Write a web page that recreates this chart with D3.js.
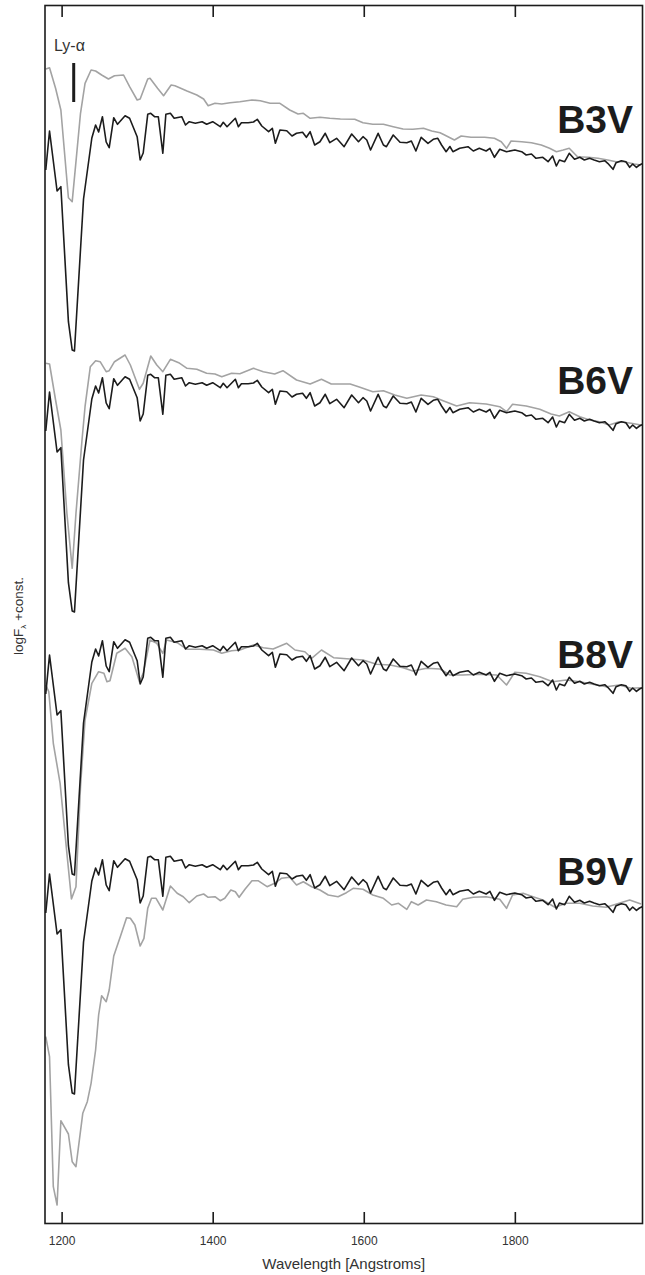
<!DOCTYPE html>
<html>
<head>
<meta charset="utf-8">
<script src="https://cdn.jsdelivr.net/npm/d3@7"></script>
<style>
  body { margin: 0; background: #fff; }
  svg { display: block; font-family: "Liberation Sans", Arial, Helvetica, sans-serif; }
</style>
</head>
<body>
<svg id="c" width="645" height="1275"></svg>
<script>

// spectral types of the comparison stars, top to bottom
const standards = ['B3V', 'B6V', 'B8V', 'B9V'];
// vertical shift (logF units) added to each panel
const offsets = [7.43, 4.82, 2.19, 0];
const xTicks = [1200, 1400, 1600, 1800];
const lyAlpha = 1216;

// observed star, [wavelength, logF] (same spectrum in every panel)
const target = [
  [1179,3.105],[1184,3.495],[1194,2.895],[1199,2.938],[1209,1.588],[1214,1.305],[1217,1.295],
  [1229,2.815],[1240,3.425],[1245,3.555],[1249,3.485],[1254,3.638],[1259,3.385],[1263,3.328],
  [1269,3.628],[1274,3.562],[1284,3.648],[1290,3.622],[1300,3.438],[1304,3.205],[1308,3.275],
  [1314,3.662],[1318,3.672],[1323,3.638],[1328,3.638],[1334,3.272],[1338,3.662],[1344,3.672],
  [1349,3.622],[1359,3.638],[1364,3.555],[1369,3.588],[1377,3.572],[1386,3.588],[1392,3.562],
  [1400,3.588],[1410,3.538],[1414,3.582],[1419,3.538],[1430,3.622],[1434,3.538],[1438,3.578],
  [1447,3.578],[1454,3.585],[1459,3.612],[1465,3.545],[1474,3.488],[1479,3.522],[1483,3.372],
  [1489,3.505],[1498,3.498],[1505,3.445],[1511,3.472],[1519,3.482],[1524,3.432],[1529,3.488],
  [1535,3.355],[1542,3.388],[1549,3.472],[1555,3.378],[1564,3.422],[1574,3.338],[1584,3.465],
  [1593,3.388],[1599,3.438],[1604,3.405],[1609,3.305],[1619,3.472],[1626,3.355],[1630,3.338],
  [1639,3.455],[1648,3.382],[1657,3.378],[1663,3.395],[1669,3.295],[1676,3.432],[1685,3.372],
  [1692,3.412],[1698,3.422],[1703,3.355],[1709,3.288],[1714,3.34],[1718,3.288],[1727,3.322],
  [1738,3.338],[1745,3.295],[1753,3.322],[1762,3.295],[1767,3.322],[1773,3.232],[1780,3.312],
  [1789,3.288],[1800,3.305],[1809,3.288],[1815,3.255],[1822,3.265],[1828,3.222],[1837,3.232],
  [1844,3.188],[1850,3.245],[1855,3.145],[1859,3.205],[1866,3.188],[1872,3.272],[1879,3.212],
  [1886,3.232],[1892,3.205],[1899,3.222],[1905,3.205],[1912,3.188],[1919,3.198],[1923,3.172],
  [1930,3.112],[1934,3.178],[1941,3.198],[1947,3.188],[1952,3.132],[1956,3.165],[1961,3.132],
  [1965,3.155],[1970,3.172]
];

const specB3V = [
  [1179,4.115],[1184,4.128],[1192,3.922],[1199,3.705],[1209,2.828],[1214,2.788],[1219,3.188],
  [1225,3.672],[1231,3.972],[1239,4.105],[1245,4.095],[1253,4.055],[1262,4.015],[1270,4.048],
  [1282,4.055],[1290,3.938],[1300,3.805],[1304,3.815],[1314,4.015],[1317,4.022],[1327,3.922],
  [1335,3.848],[1345,3.955],[1350,3.948],[1366,3.895],[1379,3.855],[1388,3.815],[1394,3.748],
  [1403,3.772],[1412,3.765],[1423,3.778],[1436,3.788],[1452,3.805],[1463,3.798],[1476,3.772],
  [1489,3.772],[1502,3.705],[1513,3.665],[1520,3.672],[1529,3.622],[1542,3.632],[1555,3.622],
  [1569,3.615],[1588,3.612],[1599,3.578],[1612,3.562],[1626,3.562],[1639,3.538],[1652,3.515],
  [1665,3.512],[1679,3.522],[1690,3.495],[1701,3.478],[1707,3.455],[1720,3.405],[1729,3.445],
  [1742,3.432],[1760,3.432],[1773,3.422],[1782,3.388],[1789,3.322],[1795,3.395],[1809,3.388],
  [1822,3.378],[1835,3.355],[1846,3.322],[1855,3.288],[1864,3.305],[1872,3.322],[1883,3.238],
  [1897,3.232],[1910,3.222],[1923,3.205],[1934,3.188],[1945,3.188],[1958,3.165],[1967,3.155]
];

const specB6V = [
  [1179,3.782],[1184,3.775],[1192,3.415],[1199,3.115],[1207,2.282],[1214,1.732],[1219,2.282],
  [1227,3.015],[1231,3.348],[1238,3.748],[1245,3.808],[1251,3.798],[1259,3.698],[1263,3.708],
  [1270,3.798],[1284,3.865],[1291,3.765],[1303,3.522],[1308,3.582],[1318,3.855],[1326,3.765],
  [1334,3.698],[1344,3.822],[1355,3.788],[1366,3.732],[1379,3.722],[1392,3.682],[1403,3.675],
  [1412,3.648],[1425,3.682],[1436,3.677],[1454,3.732],[1467,3.698],[1482,3.675],[1493,3.708],
  [1511,3.615],[1529,3.575],[1544,3.622],[1557,3.575],[1582,3.575],[1595,3.542],[1612,3.498],
  [1626,3.508],[1641,3.465],[1657,3.432],[1676,3.465],[1692,3.448],[1705,3.408],[1723,3.355],
  [1740,3.388],[1762,3.375],[1780,3.348],[1789,3.298],[1797,3.372],[1815,3.355],[1833,3.322],
  [1848,3.275],[1859,3.255],[1872,3.298],[1886,3.248],[1899,3.215],[1912,3.198],[1925,3.165],
  [1938,3.198],[1954,3.182],[1967,3.165]
];

const specB8V = [
  [1179,3.195],[1183,3.128],[1189,2.612],[1198,2.212],[1207,1.512],[1213,1.055],[1219,1.178],
  [1225,2.178],[1231,2.845],[1240,3.212],[1249,3.328],[1256,3.312],[1260,3.228],[1264,3.238],
  [1273,3.512],[1284,3.562],[1293,3.478],[1303,3.228],[1308,3.312],[1317,3.645],[1326,3.612],
  [1334,3.512],[1339,3.645],[1353,3.618],[1366,3.552],[1383,3.552],[1401,3.545],[1412,3.512],
  [1425,3.538],[1436,3.545],[1454,3.595],[1467,3.568],[1480,3.555],[1498,3.612],[1509,3.545],
  [1522,3.528],[1531,3.462],[1544,3.545],[1560,3.468],[1582,3.455],[1599,3.445],[1617,3.402],
  [1635,3.395],[1652,3.368],[1665,3.335],[1683,3.362],[1701,3.355],[1714,3.295],[1731,3.295],
  [1753,3.302],[1776,3.295],[1789,3.195],[1800,3.322],[1815,3.312],[1833,3.278],[1850,3.228],
  [1868,3.245],[1886,3.228],[1903,3.202],[1921,3.178],[1938,3.195],[1954,3.162],[1967,3.168]
];

const specB9V = [
  [1179,1.868],[1184,1.668],[1189,0.368],[1194,0.185],[1199,1.028],[1209,0.895],[1214,0.618],
  [1219,0.568],[1228,1.102],[1234,1.218],[1239,1.402],[1245,1.735],[1249,2.085],[1253,2.278],
  [1259,2.218],[1263,2.335],[1269,2.675],[1278,2.875],[1286,3.058],[1291,3.052],[1297,2.985],
  [1304,2.775],[1309,2.852],[1314,3.152],[1319,3.252],[1325,3.252],[1334,3.135],[1344,3.375],
  [1353,3.302],[1361,3.268],[1369,3.208],[1379,3.275],[1388,3.295],[1394,3.262],[1403,3.268],
  [1410,3.228],[1416,3.252],[1424,3.335],[1430,3.318],[1435,3.262],[1443,3.345],[1452,3.428],
  [1460,3.428],[1472,3.368],[1482,3.402],[1491,3.452],[1502,3.462],[1511,3.385],[1520,3.418],
  [1531,3.368],[1542,3.335],[1553,3.285],[1566,3.268],[1577,3.308],[1586,3.352],[1599,3.342],
  [1612,3.285],[1626,3.252],[1637,3.185],[1646,3.202],[1657,3.142],[1663,3.218],[1672,3.185],
  [1683,3.235],[1696,3.218],[1709,3.185],[1723,3.168],[1731,3.242],[1745,3.262],[1762,3.268],
  [1780,3.242],[1789,3.152],[1797,3.285],[1811,3.302],[1824,3.268],[1837,3.235],[1853,3.162],
  [1868,3.202],[1886,3.202],[1903,3.175],[1921,3.162],[1938,3.202],[1952,3.235],[1967,3.195]
];

const standardSpectra = [specB3V, specB6V, specB8V, specB9V];

const svg = d3.select('#c');

const margin = { left: 45, right: 642.5, top: 5.5, bottom: 1223.5 };

const x = d3.scaleLinear().domain([1178, 1969]).range([margin.left, margin.right]);
const y = d3.scaleLinear().domain([0, 12.18]).range([margin.bottom, margin.top]);

svg.append('defs').append('clipPath').attr('id', 'plotClip')
  .append('rect')
  .attr('x', margin.left).attr('y', margin.top)
  .attr('width', margin.right - margin.left).attr('height', margin.bottom - margin.top);

const plot = svg.append('g').attr('clip-path', 'url(#plotClip)');

standards.forEach(function (name, i) {
  const off = offsets[i];
  const line = d3.line()
    .x(d => x(d[0]))
    .y(d => y(d[1] + off));

  // comparison standard in gray, observed star in black on top
  plot.append('path')
    .datum(standardSpectra[i])
    .attr('fill', 'none')
    .attr('stroke', '#a3a3a3')
    .attr('stroke-width', 1.6)
    .attr('stroke-linejoin', 'round')
    .attr('d', line);

  plot.append('path')
    .datum(target)
    .attr('fill', 'none')
    .attr('stroke', '#1c1c1c')
    .attr('stroke-width', 1.6)
    .attr('stroke-linejoin', 'round')
    .attr('d', line);
});

// spectral type labels (baseline in logF units)
const labelLevels = [10.91, 8.30, 5.555, 3.385];
svg.selectAll('.stype')
  .data(standards)
  .enter().append('text')
  .attr('class', 'stype')
  .attr('x', 633)
  .attr('y', (d, i) => y(labelLevels[i]))
  .attr('text-anchor', 'end')
  .attr('font-size', 39)
  .attr('font-weight', 'bold')
  .attr('fill', '#1c1c1c')
  .text(d => d);

// Ly-alpha marker
svg.append('line')
  .attr('x1', x(lyAlpha)).attr('x2', x(lyAlpha))
  .attr('y1', y(11.605)).attr('y2', y(11.215))
  .attr('stroke', '#1c1c1c')
  .attr('stroke-width', 3);

svg.append('text')
  .attr('x', 54)
  .attr('y', 51)
  .attr('font-size', 16)
  .attr('fill', '#333')
  .text('Ly-α');

// frame
svg.append('rect')
  .attr('x', margin.left).attr('y', margin.top)
  .attr('width', margin.right - margin.left).attr('height', margin.bottom - margin.top)
  .attr('fill', 'none')
  .attr('stroke', '#1c1c1c')
  .attr('stroke-width', 1.6);

const xAxisBottom = d3.axisBottom(x)
  .tickValues(xTicks)
  .tickSizeInner(-11.5)
  .tickSizeOuter(0)
  .tickPadding(13)
  .tickFormat(d3.format('d'));

const gb = svg.append('g')
  .attr('transform', 'translate(0,' + margin.bottom + ')')
  .call(xAxisBottom);
gb.select('.domain').remove();
gb.selectAll('.tick line').attr('stroke', '#1c1c1c').attr('stroke-width', 1.6);
gb.selectAll('.tick text')
  .attr('font-size', 12)
  .attr('font-family', '"Liberation Sans", Arial, sans-serif')
  .attr('fill', '#333');

const xAxisTop = d3.axisTop(x)
  .tickValues(xTicks)
  .tickSizeInner(-11.5)
  .tickSizeOuter(0)
  .tickFormat('');

const gt = svg.append('g')
  .attr('transform', 'translate(0,' + margin.top + ')')
  .call(xAxisTop);
gt.select('.domain').remove();
gt.selectAll('.tick line').attr('stroke', '#1c1c1c').attr('stroke-width', 1.6);

svg.append('text')
  .attr('x', (margin.left + margin.right) / 2)
  .attr('y', 1269)
  .attr('text-anchor', 'middle')
  .attr('font-size', 15)
  .attr('fill', '#333')
  .text('Wavelength [Angstroms]');

// y label
const yl = svg.append('text')
  .attr('transform', 'translate(23,616) rotate(-90)')
  .attr('text-anchor', 'middle')
  .attr('font-size', 13.5)
  .attr('fill', '#333');
yl.append('tspan').text('logF');
yl.append('tspan').attr('font-size', 8).attr('dy', 3).text('λ');
yl.append('tspan').attr('dy', -3).text(' +const.');

</script>
</body>
</html>
